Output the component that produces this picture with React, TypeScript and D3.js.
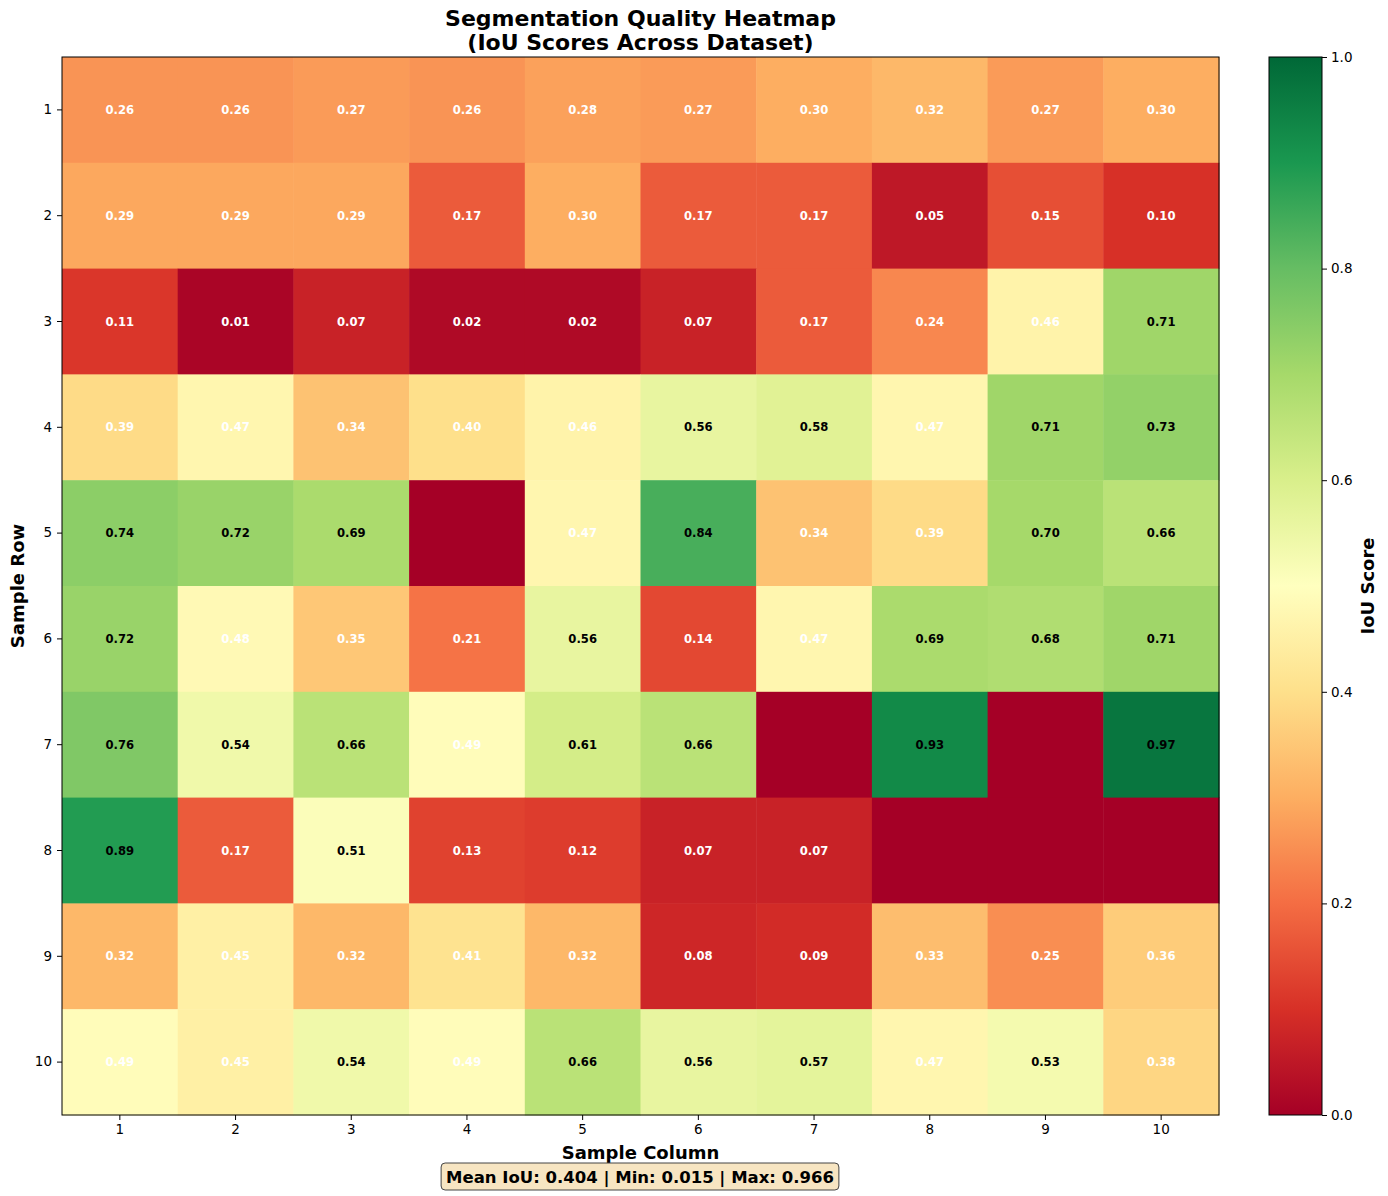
import React, { useEffect, useRef } from 'react'
import * as d3 from 'd3'

// IoU values per row (null = no label, drawn at colormap minimum)
const rowLabels = ['1', '2', '3', '4', '5', '6', '7', '8', '9', '10']
const colLabels = ['1', '2', '3', '4', '5', '6', '7', '8', '9', '10']
const iou: (number | null)[][] = [
    [0.26, 0.26, 0.27, 0.26, 0.28, 0.27, 0.3, 0.32, 0.27, 0.3],
    [0.29, 0.29, 0.29, 0.17, 0.3, 0.17, 0.17, 0.05, 0.15, 0.1],
    [0.11, 0.01, 0.07, 0.02, 0.02, 0.07, 0.17, 0.24, 0.46, 0.71],
    [0.39, 0.47, 0.34, 0.4, 0.46, 0.56, 0.58, 0.47, 0.71, 0.73],
    [0.74, 0.72, 0.69, null, 0.47, 0.84, 0.34, 0.39, 0.7, 0.66],
    [0.72, 0.48, 0.35, 0.21, 0.56, 0.14, 0.47, 0.69, 0.68, 0.71],
    [0.76, 0.54, 0.66, 0.49, 0.61, 0.66, null, 0.93, null, 0.97],
    [0.89, 0.17, 0.51, 0.13, 0.12, 0.07, 0.07, null, null, null],
    [0.32, 0.45, 0.32, 0.41, 0.32, 0.08, 0.09, 0.33, 0.25, 0.36],
    [0.49, 0.45, 0.54, 0.49, 0.66, 0.56, 0.57, 0.47, 0.53, 0.38]
]
const colorbarTicks = [0, 0.2, 0.4, 0.6, 0.8, 1.0]
const summaryText = 'Mean IoU: 0.404 | Min: 0.015 | Max: 0.966'

const RdYlGn = ['#a50026', '#d73027', '#f46d43', '#fdae61', '#fee08b', '#ffffbf', '#d9ef8b', '#a6d96a', '#66bd63', '#1a9850', '#006837']

const W = 1388
const H = 1196
const plot = { left: 62, top: 57, right: 1219, bottom: 1115 }
const cbar = { left: 1269, right: 1322 }
const FONT = 'DejaVu Sans, sans-serif'

const App = () => {
    const ref = useRef<SVGSVGElement>(null)

    useEffect(() => {
        const svg = d3.select(ref.current)
        svg.selectAll('*').remove()

        const color = d3
            .scaleLinear<string>()
            .domain(d3.range(11).map(i => i / 10))
            .range(RdYlGn)
            .clamp(true)

        const x = d3.scaleBand().domain(colLabels).range([plot.left, plot.right]).padding(0)
        const y = d3.scaleBand().domain(rowLabels).range([plot.top, plot.bottom]).padding(0)

        const cells = iou.flatMap((row, r) => row.map((v, c) => ({ r: rowLabels[r], c: colLabels[c], v })))

        // heatmap cells
        svg.append('g')
            .selectAll('rect')
            .data(cells)
            .join('rect')
            .attr('x', d => x(d.c))
            .attr('y', d => y(d.r))
            .attr('width', x.bandwidth() + 0.5)
            .attr('height', y.bandwidth() + 0.5)
            .attr('fill', d => color(d.v ?? 0))

        // cell labels
        svg.append('g')
            .selectAll('text')
            .data(cells.filter(d => d.v !== null))
            .join('text')
            .attr('x', d => x(d.c) + x.bandwidth() / 2)
            .attr('y', d => y(d.r) + y.bandwidth() / 2)
            .attr('text-anchor', 'middle')
            .attr('dominant-baseline', 'central')
            .attr('font-family', FONT)
            .attr('font-size', 11.6)
            .attr('font-weight', 'bold')
            .attr('fill', d => (d.v < 0.5 ? 'white' : 'black'))
            .text(d => d.v.toFixed(2))

        // frame
        svg.append('rect')
            .attr('x', plot.left)
            .attr('y', plot.top)
            .attr('width', plot.right - plot.left)
            .attr('height', plot.bottom - plot.top)
            .attr('fill', 'none')
            .attr('stroke', 'black')
            .attr('stroke-width', 1)

        // axes
        const xAxis = svg.append('g')
            .attr('transform', `translate(0,${plot.bottom})`)
            .call(d3.axisBottom(x).tickSize(5).tickPadding(4))
        const yAxis = svg.append('g')
            .attr('transform', `translate(${plot.left},0)`)
            .call(d3.axisLeft(y).tickSize(5).tickPadding(5))
        ;[xAxis, yAxis].forEach(a => {
            a.select('.domain').remove()
            a.selectAll('text').attr('font-family', FONT).attr('font-size', 13.5).attr('fill', 'black')
        })

        // axis labels
        svg.append('text')
            .attr('x', (plot.left + plot.right) / 2)
            .attr('y', 1159)
            .attr('text-anchor', 'middle')
            .attr('font-family', FONT)
            .attr('font-size', 18)
            .attr('font-weight', 'bold')
            .text('Sample Column')
        svg.append('text')
            .attr('transform', `translate(24,${(plot.top + plot.bottom) / 2}) rotate(-90)`)
            .attr('text-anchor', 'middle')
            .attr('font-family', FONT)
            .attr('font-size', 18)
            .attr('font-weight', 'bold')
            .text('Sample Row')

        // title
        const title = svg.append('text')
            .attr('text-anchor', 'middle')
            .attr('font-family', FONT)
            .attr('font-size', 22)
            .attr('font-weight', 'bold')
        title.append('tspan').attr('x', (plot.left + plot.right) / 2).attr('y', 26).text('Segmentation Quality Heatmap')
        title.append('tspan').attr('x', (plot.left + plot.right) / 2).attr('y', 50).text('(IoU Scores Across Dataset)')

        // colorbar
        const defs = svg.append('defs')
        const grad = defs.append('linearGradient')
            .attr('id', 'cbar-grad')
            .attr('x1', 0).attr('y1', 1).attr('x2', 0).attr('y2', 0)
        RdYlGn.forEach((c, i) => {
            grad.append('stop').attr('offset', `${i * 10}%`).attr('stop-color', c)
        })
        svg.append('rect')
            .attr('x', cbar.left)
            .attr('y', plot.top)
            .attr('width', cbar.right - cbar.left)
            .attr('height', plot.bottom - plot.top)
            .attr('fill', 'url(#cbar-grad)')
            .attr('stroke', 'black')
            .attr('stroke-width', 1)

        const cy = d3.scaleLinear().domain([0, 1]).range([plot.bottom, plot.top])
        const cAxis = svg.append('g')
            .attr('transform', `translate(${cbar.right},0)`)
            .call(d3.axisRight(cy).tickValues(colorbarTicks).tickFormat(d3.format('.1f')).tickSize(5).tickPadding(4))
        cAxis.select('.domain').remove()
        cAxis.selectAll('text').attr('font-family', FONT).attr('font-size', 13.5).attr('fill', 'black')

        svg.append('text')
            .attr('transform', `translate(1367,${(plot.top + plot.bottom) / 2}) rotate(-90)`)
            .attr('text-anchor', 'middle')
            .attr('dominant-baseline', 'central')
            .attr('font-family', FONT)
            .attr('font-size', 18)
            .attr('font-weight', 'bold')
            .text('IoU Score')

        // summary box
        const summary = svg.append('g')
        const st = summary.append('text')
            .attr('x', 640)
            .attr('y', 1183)
            .attr('text-anchor', 'middle')
            .attr('font-family', FONT)
            .attr('font-size', 16.5)
            .attr('font-weight', 'bold')
            .text(summaryText)
        const bb = (st.node() as SVGTextElement).getBBox()
        summary.insert('rect', 'text')
            .attr('x', bb.x - 5)
            .attr('y', 1163)
            .attr('width', bb.width + 10)
            .attr('height', 27)
            .attr('rx', 4)
            .attr('fill', '#f5deb3')
            .attr('fill-opacity', 0.8)
            .attr('stroke', '#444')
            .attr('stroke-width', 1)
    }, [])

    return <svg ref={ref} width={W} height={H} style={{ display: 'block', position: 'absolute', left: 0, top: 0 }} />
}

export default App
